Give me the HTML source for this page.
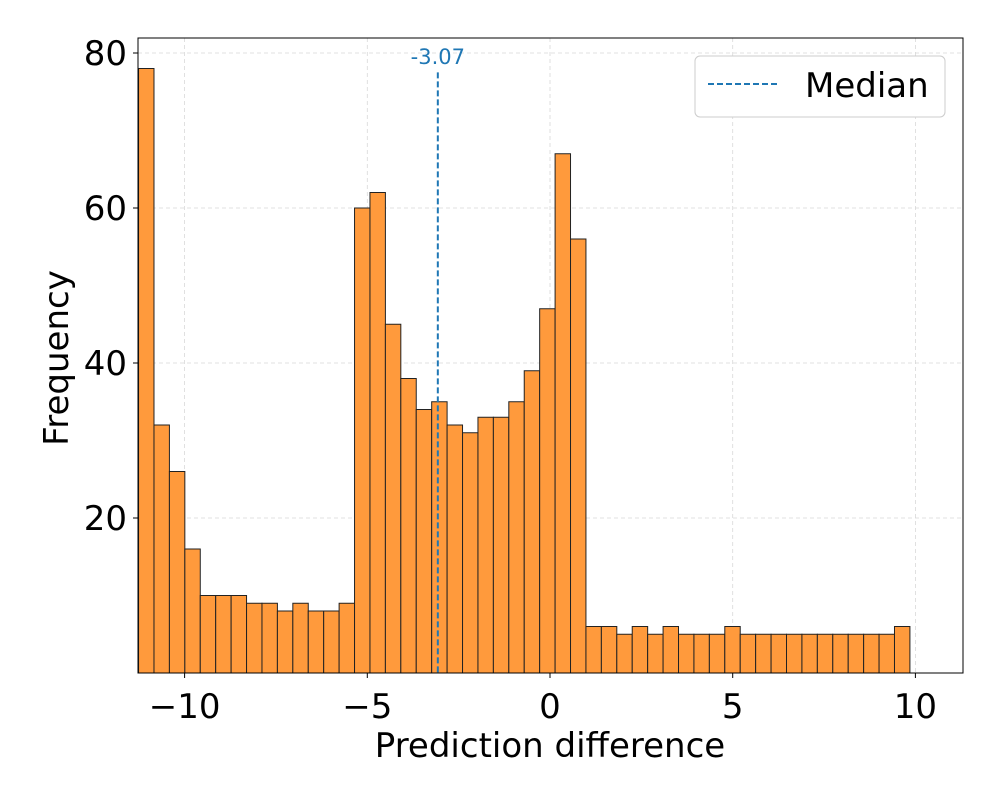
<!DOCTYPE html>
<html><head><meta charset="utf-8"><style>
body{margin:0;background:#fff;}
svg{display:block;font-family:"DejaVu Sans","Liberation Sans",sans-serif;}
</style></head><body>
<svg id="chart" width="1000" height="800"></svg>
<script>
const counts=[78,32,26,16,10,10,10,9,9,8,9,8,8,9,60,62,45,38,34,35,32,31,33,33,35,39,47,67,56,6,6,5,6,5,6,5,5,5,6,5,5,5,5,5,5,5,5,5,5,6];
const binStart=-11.26, binEnd=9.85;
const xTicks=[-10,-5,0,5,10];
const yTicks=[20,40,60,80];
const median=-3.07;
const L=138,R=963,T=38,B=673;
const xs=v=>550+(v)*36.54;
const ys=v=>673-v*7.75;
const NS="http://www.w3.org/2000/svg";
const svg=document.getElementById('chart');
function mk(t,a,p){const e=document.createElementNS(NS,t);for(const k in a)e.setAttribute(k,a[k]);(p||svg).appendChild(e);return e;}
const grid=mk('g',{});


xTicks.forEach(v=>mk('line',{x1:xs(v),x2:xs(v),y1:T,y2:B,stroke:'#d8d8d8','stroke-dasharray':'4,3','stroke-width':0.8},grid));
yTicks.forEach(v=>mk('line',{x1:L,x2:R,y1:ys(v),y2:ys(v),stroke:'#d8d8d8','stroke-dasharray':'4,3','stroke-width':0.8},grid));
const w=(binEnd-binStart)/counts.length;
counts.forEach((c,i)=>{
 const x0=xs(binStart+i*w),x1=xs(binStart+(i+1)*w);
 const r=mk('rect',{x:x0,y:ys(c),width:x1-x0,height:ys(0)-ys(c),fill:'#ff9a3c',stroke:'#222','stroke-width':1});
 
 
});
const ml=mk('line',{x1:xs(median),x2:xs(median),y1:ys(77.5),y2:B,stroke:'#1f77b4','stroke-width':2,'stroke-dasharray':'6,3'});


const mt=mk('text',{x:xs(median),y:64,'text-anchor':'middle','font-size':21,fill:'#1f77b4'});
mt.textContent=median.toFixed(2);


mk('rect',{x:L,y:T,width:R-L,height:B-T,fill:'none',stroke:'#000','stroke-width':1});
xTicks.forEach(v=>{
 mk('line',{x1:xs(v),x2:xs(v),y1:B,y2:B+5,stroke:'#000'});
 const t=mk('text',{x:xs(v),y:718,'text-anchor':'middle','font-size':34});
 t.textContent=v<0?'\u2212'+(-v):v;
 
 
});
yTicks.forEach(v=>{
 mk('line',{x1:L-5,x2:L,y1:ys(v),y2:ys(v),stroke:'#000'});
 const t=mk('text',{x:L-11,y:ys(v)+12,'text-anchor':'end','font-size':34});
 t.textContent=v;
 
 
});
const xl=mk('text',{x:550,y:757,'text-anchor':'middle','font-size':34});
xl.textContent='Prediction difference';


const yl=mk('text',{x:68,y:358,'text-anchor':'middle','font-size':34,transform:'rotate(-90 68 358)'});
yl.textContent='Frequency';


const lg=mk('g',{});


mk('rect',{x:695,y:56,width:250,height:61,rx:5,fill:'#fff',stroke:'#ccc'},lg);
mk('line',{x1:708,x2:778,y1:84,y2:84,stroke:'#1f77b4','stroke-width':2,'stroke-dasharray':'6,3'},lg);
const lt=mk('text',{x:805,y:97,'font-size':34},lg);
lt.textContent='Median';


</script>
</body></html>
